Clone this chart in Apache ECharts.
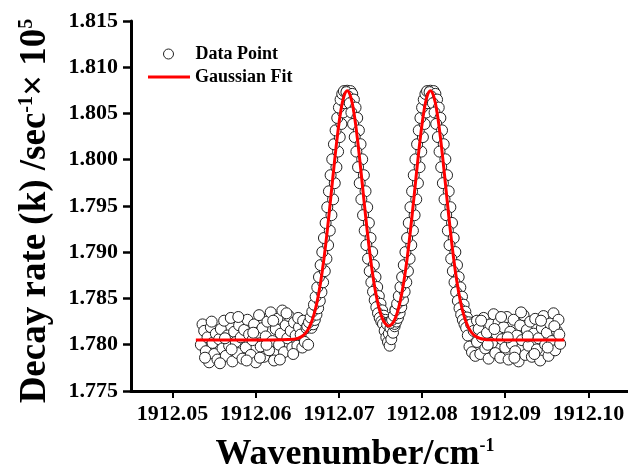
<!DOCTYPE html>
<html><head><meta charset="utf-8">
<script src="https://cdn.jsdelivr.net/npm/echarts@6/dist/echarts.min.js"></script>
<style>html,body{margin:0;padding:0;background:#fff}#c{width:628px;height:466px}</style>
</head><body><div id="c"></div>
<script>
const FONT = '"Liberation Serif","Times New Roman",serif';

// Tick labels
const xTicks = [1912.05, 1912.06, 1912.07, 1912.08, 1912.09, 1912.10];
const yTicks = [1.775, 1.780, 1.785, 1.790, 1.795, 1.800, 1.805, 1.810, 1.815];

// Data points, by segment
const baseLeftX = [1912.0534,1912.0536,1912.0538,1912.0540,1912.0542,1912.0544,1912.0546,1912.0548,1912.0550,1912.0552,
1912.0554,1912.0556,1912.0558,1912.0560,1912.0562,1912.0564,1912.0566,1912.0568,1912.0570,1912.0572,
1912.0574,1912.0576,1912.0578,1912.0580,1912.0582,1912.0584,1912.0586,1912.0588,1912.0590,1912.0592,
1912.0594,1912.0596,1912.0598,1912.0600,1912.0602,1912.0604,1912.0606,1912.0608,1912.0610,1912.0612,
1912.0614,1912.0616,1912.0618,1912.0620,1912.0622,1912.0624,1912.0626,1912.0628,1912.0630,1912.0632,
1912.0634,1912.0636,1912.0638,1912.0640,1912.0642,1912.0644,1912.0646,1912.0648,1912.0650,1912.0652,
1912.0539,1912.0547,1912.0557,1912.0563,1912.0571,1912.0579,1912.0589,1912.0597,1912.0605,1912.0613,1912.0621,1912.0629,1912.0637,1912.0645,1912.0651,
1912.0654,1912.0656,1912.0657,1912.0659,1912.0661,1912.0663,1912.0665];
const baseLeftY = [1.7800,1.7822,1.7815,1.7793,1.7808,1.7781,1.7819,1.7802,1.7790,1.7812,
1.7784,1.7806,1.7817,1.7796,1.7826,1.7788,1.7810,1.7799,1.7829,1.7782,
1.7814,1.7803,1.7791,1.7821,1.7808,1.7785,1.7816,1.7797,1.7827,1.7811,
1.7789,1.7805,1.7822,1.7781,1.7813,1.7832,1.7798,1.7818,1.7787,1.7809,
1.7825,1.7794,1.7835,1.7804,1.7783,1.7817,1.7828,1.7800,1.7812,1.7837,
1.7792,1.7821,1.7807,1.7831,1.7815,1.7797,1.7824,1.7810,1.7799,1.7819,
1.7786,1.7825,1.7780,1.7807,1.7795,1.7830,1.7783,1.7813,1.7786,1.7800,1.7826,1.7784,1.7834,1.7790,1.7829,
1.7811,1.7797,1.7826,1.7803,1.7818,1.7800,1.7823];

const rise1X = [1912.0667,1912.0662,1912.0669,1912.0664,1912.0671,1912.0666,1912.0673,1912.0668,1912.0675,1912.0670,
1912.0677,1912.0672,1912.0679,1912.0674,1912.0681,1912.0676,1912.0683,1912.0678,1912.0685,1912.0680,
1912.0687,1912.0682,1912.0689,1912.0684,1912.0691,1912.0686,1912.0693,1912.0688,1912.0695,1912.0690,
1912.0697,1912.0692,1912.0699,1912.0694,1912.0701,1912.0696,1912.0703,1912.0698,1912.0705,1912.0700,
1912.0707,1912.0702,1912.0709,1912.0704,1912.0711,1912.0706,1912.0710];
const rise1Y = [1.78183,1.78201,1.78221,1.78243,1.78268,1.78295,1.78325,1.78358,1.78394,1.78433,
1.78474,1.78520,1.78568,1.78620,1.78675,1.78732,1.78796,1.78861,1.78930,1.79002,
1.79077,1.79154,1.79234,1.79317,1.79401,1.79487,1.79572,1.79659,1.79747,1.79833,
1.79920,1.80005,1.80088,1.80168,1.80245,1.80318,1.80387,1.80452,1.80511,1.80564,
1.80611,1.80651,1.80685,1.80712,1.80731,1.80742,1.80746];

const fall1X = [1912.0714,1912.0709,1912.0716,1912.0711,1912.0718,1912.0713,1912.0720,1912.0715,1912.0722,1912.0717,
1912.0724,1912.0719,1912.0726,1912.0721,1912.0728,1912.0723,1912.0730,1912.0725,1912.0732,1912.0727,
1912.0734,1912.0729,1912.0736,1912.0731,1912.0738,1912.0733,1912.0740,1912.0735,1912.0742,1912.0737,
1912.0744,1912.0739,1912.0746,1912.0741,1912.0748,1912.0743,1912.0750,1912.0745,1912.0752,1912.0747,
1912.0754,1912.0749,1912.0756,1912.0751,1912.0758,1912.0753];
const fall1Y = [1.80742,1.80731,1.80712,1.80685,1.80651,1.80611,1.80564,1.80511,1.80452,1.80387,
1.80318,1.80245,1.80168,1.80088,1.80005,1.79920,1.79833,1.79747,1.79659,1.79572,
1.79487,1.79401,1.79317,1.79234,1.79154,1.79077,1.79002,1.78930,1.78861,1.78796,
1.78732,1.78675,1.78624,1.78573,1.78526,1.78482,1.78443,1.78406,1.78372,1.78341,
1.78314,1.78290,1.78269,1.78251,1.78237,1.78225];

const dipX = [1912.0755,1912.0757,1912.0758,1912.0759,1912.0760,1912.0761,1912.0762,1912.0763,1912.0764,1912.0765,1912.0766,1912.0767,1912.0768];
const dipY = [1.7815,1.7808,1.7822,1.7803,1.7812,1.7799,1.7818,1.7806,1.7825,1.7813,1.7830,1.7820,1.7838];

const rise2X = [1912.0767,1912.0762,1912.0769,1912.0764,1912.0771,1912.0766,1912.0773,1912.0768,1912.0775,1912.0770,
1912.0777,1912.0772,1912.0779,1912.0774,1912.0781,1912.0776,1912.0783,1912.0778,1912.0785,1912.0780,
1912.0787,1912.0782,1912.0789,1912.0784,1912.0791,1912.0786,1912.0793,1912.0788,1912.0795,1912.0790,
1912.0797,1912.0792,1912.0799,1912.0794,1912.0801,1912.0796,1912.0803,1912.0798,1912.0805,1912.0800,
1912.0807,1912.0802,1912.0809,1912.0804,1912.0811,1912.0806,1912.0810];
const rise2Y = [1.78225,1.78237,1.78251,1.78269,1.78290,1.78314,1.78341,1.78372,1.78406,1.78443,
1.78482,1.78526,1.78573,1.78624,1.78675,1.78732,1.78796,1.78861,1.78930,1.79002,
1.79077,1.79154,1.79234,1.79317,1.79401,1.79487,1.79572,1.79659,1.79747,1.79833,
1.79920,1.80005,1.80088,1.80168,1.80245,1.80318,1.80387,1.80452,1.80511,1.80564,
1.80611,1.80651,1.80685,1.80712,1.80731,1.80742,1.80746];

const fall2X = [1912.0814,1912.0809,1912.0816,1912.0811,1912.0818,1912.0813,1912.0820,1912.0815,1912.0822,1912.0817,
1912.0824,1912.0819,1912.0826,1912.0821,1912.0828,1912.0823,1912.0830,1912.0825,1912.0832,1912.0827,
1912.0834,1912.0829,1912.0836,1912.0831,1912.0838,1912.0833,1912.0840,1912.0835,1912.0842,1912.0837,
1912.0844,1912.0839,1912.0846,1912.0841,1912.0848,1912.0843,1912.0850,1912.0845,1912.0852,1912.0847,
1912.0854,1912.0849,1912.0856,1912.0851,1912.0858,1912.0853];
const fall2Y = [1.80742,1.80731,1.80712,1.80685,1.80651,1.80611,1.80564,1.80511,1.80452,1.80387,
1.80318,1.80245,1.80168,1.80088,1.80005,1.79920,1.79833,1.79747,1.79659,1.79572,
1.79487,1.79401,1.79317,1.79234,1.79154,1.79077,1.79002,1.78930,1.78861,1.78796,
1.78732,1.78675,1.78620,1.78568,1.78520,1.78474,1.78433,1.78394,1.78358,1.78325,
1.78295,1.78268,1.78243,1.78221,1.78201,1.78183];

const baseRightX = [1912.0855,1912.0857,1912.0859,1912.0860,1912.0862,1912.0864,1912.0866,
1912.0866,1912.0868,1912.0870,1912.0872,1912.0874,1912.0876,1912.0878,1912.0880,1912.0882,1912.0884,
1912.0886,1912.0888,1912.0890,1912.0892,1912.0894,1912.0896,1912.0898,1912.0900,1912.0902,1912.0904,
1912.0906,1912.0908,1912.0910,1912.0912,1912.0914,1912.0916,1912.0918,1912.0920,1912.0922,1912.0924,
1912.0926,1912.0928,1912.0930,1912.0932,1912.0934,1912.0936,1912.0938,1912.0940,1912.0942,1912.0944,
1912.0946,1912.0948,1912.0950,1912.0952,1912.0954,1912.0956,1912.0958,1912.0960,1912.0962,1912.0964,
1912.0966,
1912.0871,1912.0879,1912.0887,1912.0895,1912.0903,1912.0911,1912.0919,1912.0927,1912.0935,1912.0943,1912.0951,1912.0959,1912.0965];
const baseRightY = [1.7810,1.7798,1.7822,1.7792,1.7815,1.7788,1.7826,
1.7803,1.7817,1.7790,1.7808,1.7829,1.7796,1.7813,1.7785,1.7822,1.7802,
1.7833,1.7791,1.7811,1.7824,1.7786,1.7806,1.7819,1.7797,1.7830,1.7784,
1.7814,1.7801,1.7827,1.7793,1.7810,1.7782,1.7821,1.7805,1.7832,1.7789,
1.7816,1.7799,1.7825,1.7787,1.7812,1.7828,1.7795,1.7807,1.7783,1.7818,
1.7831,1.7800,1.7813,1.7788,1.7823,1.7804,1.7834,1.7794,1.7815,1.7827,
1.7801,
1.7826,1.7800,1.7817,1.7830,1.7808,1.7786,1.7835,1.7809,1.7790,1.7826,1.7797,1.7820,1.7811];

// Gaussian fit curve
const fitX = [1912.0528,1912.0600,1912.0620,1912.0646,1912.0650,1912.0654,1912.0658,1912.0662,1912.0666,1912.0670,
1912.0674,1912.0678,1912.0682,1912.0686,1912.0690,1912.0694,1912.0698,1912.0702,1912.0706,1912.0710,
1912.0714,1912.0718,1912.0722,1912.0726,1912.0730,1912.0734,1912.0738,1912.0742,1912.0746,1912.0750,
1912.0754,1912.0758,1912.0760,1912.0762,1912.0766,1912.0770,1912.0774,1912.0778,1912.0782,1912.0786,
1912.0790,1912.0794,1912.0798,1912.0802,1912.0806,1912.0810,1912.0814,1912.0818,1912.0822,1912.0826,
1912.0830,1912.0834,1912.0838,1912.0842,1912.0846,1912.0850,1912.0854,1912.0858,1912.0862,1912.0866,
1912.0870,1912.0874,1912.0880,1912.0900,1912.0971];
const fitY = [1.78052,1.78052,1.78052,1.78060,1.78068,1.78082,1.78108,1.78152,1.78221,1.78325,
1.78474,1.78675,1.78930,1.79234,1.79572,1.79920,1.80245,1.80511,1.80685,1.80746,
1.80685,1.80511,1.80245,1.79920,1.79572,1.79234,1.78931,1.78678,1.78482,1.78341,
1.78251,1.78208,1.78202,1.78208,1.78251,1.78341,1.78482,1.78678,1.78931,1.79234,
1.79572,1.79920,1.80245,1.80511,1.80685,1.80746,1.80685,1.80511,1.80245,1.79920,
1.79572,1.79234,1.78930,1.78675,1.78474,1.78325,1.78221,1.78152,1.78108,1.78082,
1.78068,1.78060,1.78053,1.78052,1.78052];

function zip(xs, ys) { return xs.map((x, i) => [x, ys[i]]); }
const scatterData = [].concat(
  zip(baseLeftX, baseLeftY), zip(rise1X, rise1Y), zip(fall1X, fall1Y), zip(dipX, dipY),
  zip(rise2X, rise2Y), zip(fall2X, fall2Y), zip(baseRightX, baseRightY));
const fitData = zip(fitX, fitY);

const txt = { fontFamily: FONT, fontWeight: 'bold', color: '#000' };

const chart = echarts.init(document.getElementById('c'), null, { renderer: 'canvas' });
chart.setOption({
  animation: false,
  backgroundColor: '#fff',
  grid: { left: 131, top: 21, right: -2, bottom: 75, containLabel: false, outerBoundsMode: 'none' },
  legend: [
    { data: [{ name: 'Data Point', icon: 'circle' }], left: 163, top: 45, orient: 'vertical', padding: 0,
      itemWidth: 10, itemHeight: 10, selectedMode: false,
      itemStyle: { color: '#fff', borderColor: '#222', borderWidth: 1 },
      textStyle: Object.assign({ fontSize: 18, padding: [0, 0, 0, 17] }, txt) },
    { data: [{ name: 'Gaussian Fit', icon: 'rect' }], left: 148, top: 68, orient: 'vertical', padding: 0,
      itemWidth: 42, itemHeight: 3, selectedMode: false,
      itemStyle: { color: '#ff0000', borderWidth: 0 },
      textStyle: Object.assign({ fontSize: 18 }, txt) }
  ],
  xAxis: {
    type: 'value', min: 1912.045, max: 1912.105,
    axisLine: { show: true, onZero: false, lineStyle: { color: '#000', width: 3 } },
    axisTick: { show: true, length: 7, customValues: xTicks, lineStyle: { color: '#000', width: 2 } },
    axisLabel: Object.assign({ customValues: xTicks, formatter: v => v.toFixed(2), margin: 12, fontSize: 22 }, txt),
    splitLine: { show: false },
    name: '{t|Wavenumber/cm}{s|-1}', nameLocation: 'middle', nameGap: 46,
    nameTextStyle: Object.assign({ fontSize: 36, padding: [0, 51, 0, 0],
      rich: { t: Object.assign({ fontSize: 36 }, txt), s: Object.assign({ fontSize: 18, verticalAlign: 'top' }, txt) } }, txt)
  },
  yAxis: {
    type: 'value', min: 1.775, max: 1.815, interval: 0.005,
    axisLine: { show: true, onZero: false, lineStyle: { color: '#000', width: 3 } },
    axisTick: { show: true, length: 8, customValues: yTicks, lineStyle: { color: '#000', width: 2.5 } },
    axisLabel: Object.assign({ customValues: yTicks, formatter: v => v.toFixed(3), margin: 13, fontSize: 22 }, txt),
    splitLine: { show: false },
    name: '{t|Decay rate (k) /sec}{s|-1}{t|× 10}{s|5}', nameLocation: 'middle', nameGap: 77, nameRotate: 90,
    nameTextStyle: Object.assign({ fontSize: 37, padding: [0, 10, 0, 0],
      rich: { t: Object.assign({ fontSize: 37 }, txt), s: Object.assign({ fontSize: 20, verticalAlign: 'top' }, txt) } }, txt)
  },
  series: [
    { name: 'Data Point', type: 'scatter', data: scatterData, symbol: 'circle', symbolSize: 11, silent: true,
      itemStyle: { color: '#fff', borderColor: '#222', borderWidth: 1, opacity: 1 }, z: 2 },
    { name: 'Gaussian Fit', type: 'line', data: fitData, symbol: 'none', smooth: 0.4, silent: true,
      lineStyle: { color: '#ff0000', width: 3 }, itemStyle: { color: '#ff0000' }, z: 3 }
  ]
});
</script></body></html>
